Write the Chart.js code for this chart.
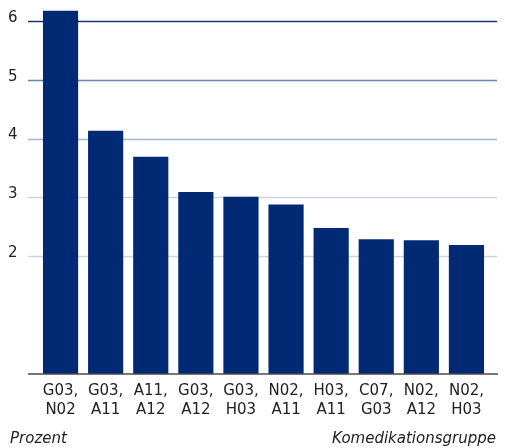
<!DOCTYPE html>
<html>
<head>
<meta charset="utf-8">
<script src="https://cdn.jsdelivr.net/npm/chart.js@4"></script>
<style>
  html, body { margin: 0; padding: 0; background: #ffffff; }
  #wrap { width: 505px; height: 448px; position: relative; }
</style>
</head>
<body>
<div id="wrap"><canvas id="c" width="505" height="448"></canvas></div>
<script>
const categories = [
  ['G03,', 'N02'], ['G03,', 'A11'], ['A11,', 'A12'], ['G03,', 'A12'], ['G03,', 'H03'],
  ['N02,', 'A11'], ['H03,', 'A11'], ['C07,', 'G03'], ['N02,', 'A12'], ['N02,', 'H03']
];
const values = [6.17, 4.13, 3.69, 3.09, 3.01, 2.88, 2.48, 2.29, 2.27, 2.19];
const yTicks = [2, 3, 4, 5, 6];
const gridColors = { 2: '#cbd3e5', 3: '#cbd3e5', 4: '#a7b5d3', 5: '#6883b6', 6: '#1b3473' };
const yAxisLabel = 'Prozent';
const xAxisLabel = 'Komedikationsgruppe';

const FONT = '"DejaVu Sans", sans-serif';

const decor = {
  id: 'decor',
  beforeDatasetsDraw(chart) {
    const ctx = chart.ctx;
    const y = chart.scales.y;
    ctx.save();
    yTicks.forEach(v => {
      const py = Math.round(y.getPixelForValue(v)) + 0.5;
      ctx.strokeStyle = gridColors[v];
      ctx.lineWidth = 1.6;
      ctx.beginPath();
      ctx.moveTo(28, py);
      ctx.lineTo(497, py);
      ctx.stroke();
    });
    ctx.restore();
  },
  afterDatasetsDraw(chart) {
    const ctx = chart.ctx;
    const y = chart.scales.y;
    const py = y.getPixelForValue(0);
    ctx.save();
    ctx.strokeStyle = '#4a4a4a';
    ctx.lineWidth = 1.5;
    ctx.beginPath();
    ctx.moveTo(28, py);
    ctx.lineTo(498, py);
    ctx.stroke();
    ctx.fillStyle = '#222222';
    ctx.font = 'italic 15px ' + FONT;
    ctx.textBaseline = 'alphabetic';
    ctx.textAlign = 'left';
    ctx.fillText(yAxisLabel, 10, 443);
    ctx.textAlign = 'right';
    ctx.fillText(xAxisLabel, 496, 443);
    ctx.restore();
  }
};

new Chart(document.getElementById('c'), {
  type: 'bar',
  data: {
    labels: categories,
    datasets: [{
      data: values,
      backgroundColor: '#022a74',
      borderWidth: 0,
      barPercentage: 0.78,
      categoryPercentage: 1.0
    }]
  },
  options: {
    responsive: false,
    animation: false,
    devicePixelRatio: 1,
    layout: { padding: { top: 9, right: 16, left: 8, bottom: 0 } },
    plugins: { legend: { display: false }, tooltip: { enabled: false } },
    scales: {
      x: {
        offset: true,
        grid: { display: false, drawTicks: false },
        border: { display: false },
        ticks: {
          color: '#222222',
          font: { family: FONT, size: 15, lineHeight: 1.3 },
          padding: 7,
          maxRotation: 0,
          autoSkip: false
        },
        afterFit(scale) { scale.height = 74; }
      },
      y: {
        min: 0,
        max: 6.2,
        grid: { display: false, drawTicks: false },
        border: { display: false },
        afterBuildTicks(scale) { scale.ticks = yTicks.map(v => ({ value: v })); },
        ticks: {
          color: '#222222',
          font: { family: FONT, size: 15 },
          padding: 0,
          crossAlign: 'far',
          labelOffset: -3
        },
        afterFit(scale) { scale.width = 30; }
      }
    }
  },
  plugins: [decor]
});
</script>
</body>
</html>
